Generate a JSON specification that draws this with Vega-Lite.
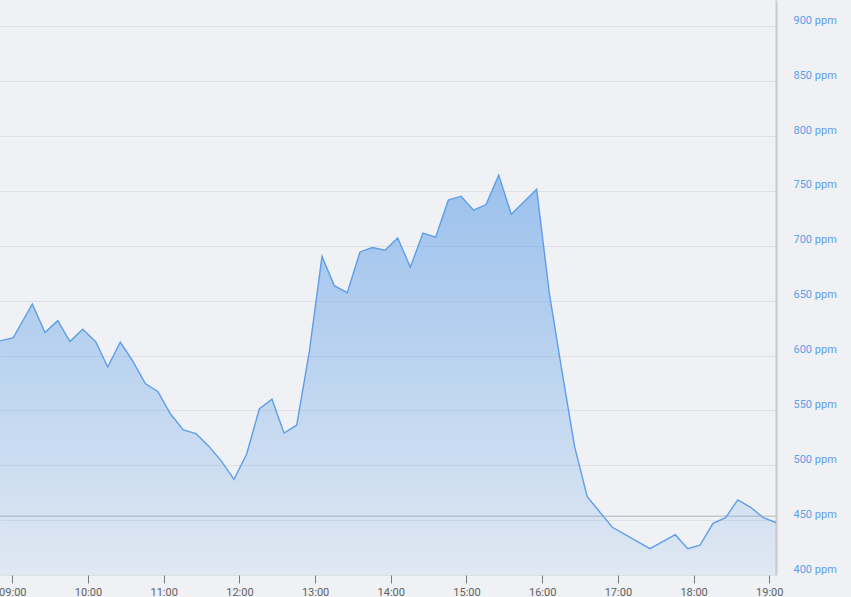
{
  "$schema": "https://vega.github.io/schema/vega-lite/v6.json",
  "width": 776,
  "height": 575,
  "autosize": {"type": "none"},
  "padding": {"left": 0, "top": 0, "right": 75, "bottom": 22},
  "background": "#eff1f4",
  "config": {
    "view": {"stroke": null},
    "font": "Roboto"
  },
  "data": {
    "values": [
      {"time": "2024-01-01T08:50:15", "ppm": 613.3},
      {"time": "2024-01-01T09:00:48", "ppm": 616.3},
      {"time": "2024-01-01T09:15:51", "ppm": 647.0},
      {"time": "2024-01-01T09:25:55", "ppm": 620.9},
      {"time": "2024-01-01T09:36:00", "ppm": 631.8},
      {"time": "2024-01-01T09:45:44", "ppm": 612.7},
      {"time": "2024-01-01T09:55:48", "ppm": 624.0},
      {"time": "2024-01-01T10:06:06", "ppm": 612.7},
      {"time": "2024-01-01T10:15:37", "ppm": 589.6},
      {"time": "2024-01-01T10:25:36", "ppm": 612.1},
      {"time": "2024-01-01T10:35:26", "ppm": 595.1},
      {"time": "2024-01-01T10:45:25", "ppm": 574.4},
      {"time": "2024-01-01T10:55:29", "ppm": 567.1},
      {"time": "2024-01-01T11:05:33", "ppm": 546.5},
      {"time": "2024-01-01T11:15:33", "ppm": 532.2},
      {"time": "2024-01-01T11:25:36", "ppm": 528.8},
      {"time": "2024-01-01T11:35:21", "ppm": 517.9},
      {"time": "2024-01-01T11:45:25", "ppm": 504.2},
      {"time": "2024-01-01T11:55:43", "ppm": 487.2},
      {"time": "2024-01-01T12:05:47", "ppm": 510.3},
      {"time": "2024-01-01T12:15:47", "ppm": 551.3},
      {"time": "2024-01-01T12:25:50", "ppm": 560.2},
      {"time": "2024-01-01T12:35:20", "ppm": 529.4},
      {"time": "2024-01-01T12:45:25", "ppm": 536.5},
      {"time": "2024-01-01T12:55:24", "ppm": 603.3},
      {"time": "2024-01-01T13:05:28", "ppm": 690.3},
      {"time": "2024-01-01T13:15:13", "ppm": 663.7},
      {"time": "2024-01-01T13:25:31", "ppm": 657.3},
      {"time": "2024-01-01T13:35:35", "ppm": 694.4},
      {"time": "2024-01-01T13:45:20", "ppm": 698.4},
      {"time": "2024-01-01T13:55:24", "ppm": 696.0},
      {"time": "2024-01-01T14:05:28", "ppm": 707.2},
      {"time": "2024-01-01T14:15:28", "ppm": 680.5},
      {"time": "2024-01-01T14:25:31", "ppm": 711.5},
      {"time": "2024-01-01T14:35:35", "ppm": 707.8},
      {"time": "2024-01-01T14:45:35", "ppm": 741.6},
      {"time": "2024-01-01T14:55:38", "ppm": 745.2},
      {"time": "2024-01-01T15:05:42", "ppm": 732.5},
      {"time": "2024-01-01T15:15:30", "ppm": 737.6},
      {"time": "2024-01-01T15:25:31", "ppm": 764.4},
      {"time": "2024-01-01T15:35:31", "ppm": 728.8},
      {"time": "2024-01-01T15:55:38", "ppm": 751.6},
      {"time": "2024-01-01T16:05:38", "ppm": 656.8},
      {"time": "2024-01-01T16:15:42", "ppm": 585.5},
      {"time": "2024-01-01T16:25:42", "ppm": 517.0},
      {"time": "2024-01-01T16:35:41", "ppm": 471.4},
      {"time": "2024-01-01T16:55:34", "ppm": 443.5},
      {"time": "2024-01-01T17:25:26", "ppm": 424.0},
      {"time": "2024-01-01T17:45:30", "ppm": 436.7},
      {"time": "2024-01-01T17:55:20", "ppm": 424.0},
      {"time": "2024-01-01T18:05:05", "ppm": 427.1},
      {"time": "2024-01-01T18:15:23", "ppm": 447.1},
      {"time": "2024-01-01T18:25:26", "ppm": 452.2},
      {"time": "2024-01-01T18:35:00", "ppm": 468.4},
      {"time": "2024-01-01T18:45:14", "ppm": 461.7},
      {"time": "2024-01-01T18:55:14", "ppm": 452.2},
      {"time": "2024-01-01T19:05:19", "ppm": 447.8}
    ]
  },
  "encoding": {
    "x": {
      "field": "time",
      "type": "temporal",
      "title": null,
      "scale": {
        "domain": [
          {"year": 2024, "month": 1, "date": 1, "hours": 8, "minutes": 50, "seconds": 15},
          {"year": 2024, "month": 1, "date": 1, "hours": 19, "minutes": 5, "seconds": 19}
        ]
      },
      "axis": {
        "orient": "bottom",
        "format": "%H:%M",
        "values": [
          {"year": 2024, "month": 1, "date": 1, "hours": 9},
          {"year": 2024, "month": 1, "date": 1, "hours": 10},
          {"year": 2024, "month": 1, "date": 1, "hours": 11},
          {"year": 2024, "month": 1, "date": 1, "hours": 12},
          {"year": 2024, "month": 1, "date": 1, "hours": 13},
          {"year": 2024, "month": 1, "date": 1, "hours": 14},
          {"year": 2024, "month": 1, "date": 1, "hours": 15},
          {"year": 2024, "month": 1, "date": 1, "hours": 16},
          {"year": 2024, "month": 1, "date": 1, "hours": 17},
          {"year": 2024, "month": 1, "date": 1, "hours": 18},
          {"year": 2024, "month": 1, "date": 1, "hours": 19}
        ],
        "grid": false,
        "domain": false,
        "ticks": true,
        "tickSize": 8,
        "tickColor": "#7a7a7a",
        "tickWidth": 1,
        "labelColor": "#616161",
        "labelFontSize": 11,
        "labelPadding": 3,
        "labelFlush": false,
        "labelOverlap": false
      }
    },
    "y": {
      "field": "ppm",
      "type": "quantitative",
      "title": null,
      "scale": {"domain": [400, 924], "nice": false, "zero": false},
      "axis": {
        "orient": "right",
        "values": [400, 450, 500, 550, 600, 650, 700, 750, 800, 850, 900],
        "labelExpr": "datum.value + ' ppm'",
        "grid": true,
        "gridColor": "#dfe1e5",
        "gridWidth": 1,
        "domain": true,
        "domainColor": "#c8c9cc",
        "domainWidth": 2,
        "ticks": false,
        "tickSize": 0,
        "labelPadding": 17,
        "labelColor": "#5e9ee8",
        "labelFontSize": 11,
        "labelBaseline": "alphabetic",
        "labelOffset": -3,
        "labelAlign": "left"
      }
    }
  },
  "layer": [
    {
      "data": {"values": [{"level": 453.6}]},
      "mark": {"type": "rule", "color": "#c4c8cd", "strokeWidth": 1.5},
      "encoding": {
        "x": null,
        "y": {"field": "level", "type": "quantitative"}
      }
    },
    {
      "mark": {
        "type": "area",
        "clip": true,
        "color": {
          "gradient": "linear",
          "x1": 0, "y1": 0, "x2": 0, "y2": 1,
          "stops": [
            {"offset": 0, "color": "rgba(94,158,232,0.58)"},
            {"offset": 1, "color": "rgba(94,158,232,0.11)"}
          ]
        }
      },
      "encoding": {
        "y2": {"datum": 400}
      }
    },
    {
      "mark": {"type": "line", "clip": true, "color": "#5e9ee8", "strokeWidth": 1.4}
    }
  ]
}
